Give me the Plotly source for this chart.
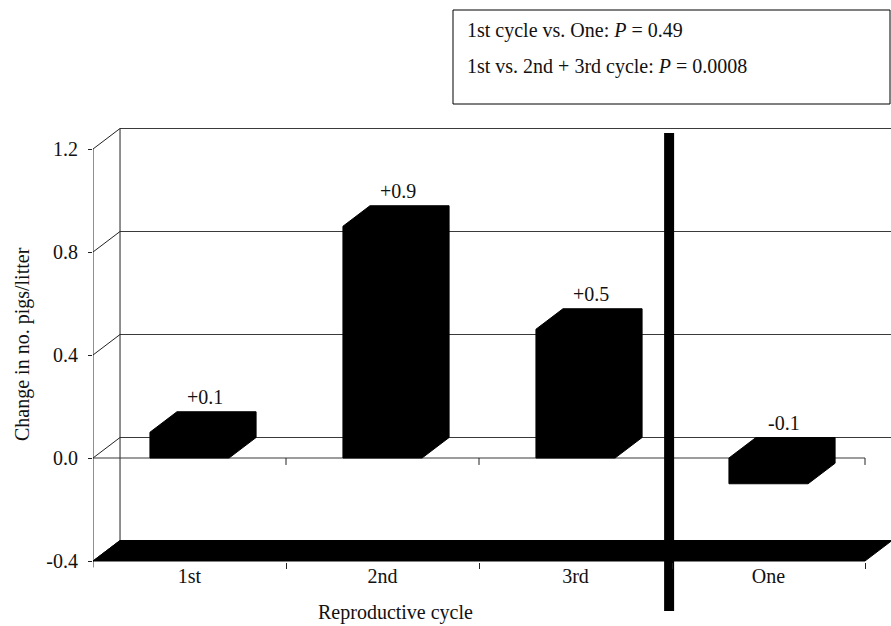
import plotly.graph_objects as go

# ---- data ----
categories = ["1st", "2nd", "3rd", "One"]
changes = [0.1, 0.9, 0.5, -0.1]
value_labels = ["+0.1", "+0.9", "+0.5", "-0.1"]
y_ticks = [-0.4, 0.0, 0.4, 0.8, 1.2]
y_tick_labels = ["-0.4", "0.0", "0.4", "0.8", "1.2"]
stats_lines = ["1st cycle vs. One: <i>P</i> = 0.49",
               "1st vs. 2nd + 3rd cycle: <i>P</i> = 0.0008"]
x_title = "Reproductive cycle"
y_title = "Change in no. pigs/litter"
separator_pos = 2.485  # thick divider between 3rd cycle and "One"

# ---- pseudo-3D geometry (in axis units) ----
DX = 0.14      # depth shift along x
DY = 0.0796    # depth shift along y
HALF = 0.205   # half width of bar front face
FONT = "Liberation Serif"
FS = 20
TXT = "#111111"
GRID = "#3a3a3a"

W, H = 891, 626
ML, MR, MT, MB = 93, 0, 125, 11
xr = [-0.5, -0.5 + (W - ML - MR) / 193.0]
yr = [(458 - (H - MB)) / 257.5, (458 - MT) / 257.5]

xmin, xmax = -0.5, len(categories) - 0.5
ylo, yhi = min(y_ticks), max(y_ticks)

fig = go.Figure()

def line(xs, ys, color=GRID, width=1.2):
    fig.add_trace(go.Scatter(x=xs, y=ys, mode="lines", hoverinfo="skip",
                             line=dict(color=color, width=width), showlegend=False))

# back wall gridlines
for v in y_ticks:
    if v > ylo:
        line([xmin + DX, xmax + DX], [v + DY, v + DY])
# back wall left edge
line([xmin + DX, xmin + DX], [ylo + DY, yhi + DY], color="#222222", width=1)
# side wall diagonals
for v in y_ticks:
    line([xmin, xmin + DX], [v, v + DY], color="#222222", width=1)
# front zero line with ticks at category boundaries
line([xmin, xmax], [0, 0])
for i in range(len(categories)):
    line([i + 0.5, i + 0.5], [0, -0.027], color="#222222", width=1)
# front y axis line
line([xmin, xmin], [yhi, ylo - 0.025], color="#222222", width=1)

# floor
fig.add_trace(go.Scatter(
    x=[xmin, xmin + DX, xmax + DX, xmax, xmin],
    y=[ylo, ylo + DY, ylo + DY, ylo, ylo],
    mode="lines", fill="toself", fillcolor="black",
    line=dict(color="black", width=1), hoverinfo="skip", showlegend=False))

# bars
for i, v in enumerate(changes):
    lo, hi = min(0, v), max(0, v)
    x0, x1 = i - HALF, i + HALF
    fig.add_trace(go.Scatter(
        x=[x0, x0, x0 + DX, x1 + DX, x1 + DX, x1, x0],
        y=[lo, hi, hi + DY, hi + DY, lo + DY, lo, lo],
        mode="lines", fill="toself", fillcolor="black",
        line=dict(color="black", width=1), hoverinfo="skip", showlegend=False))
    fig.add_annotation(x=i + 0.08, y=hi + DY + 0.058, xref="x", yref="y",
                       xanchor="center", yanchor="middle",
                       text=value_labels[i], showarrow=False,
                       font=dict(family=FONT, size=FS, color=TXT))

# thick separator
line([separator_pos, separator_pos], [-0.594, 1.262], color="black", width=10)

def px_to_paper_x(px):
    return (px - ML) / (W - ML - MR)

def px_to_paper_y(py):
    return (H - MB - py) / (H - MT - MB)

# stats box
fig.add_shape(type="rect", xref="paper", yref="paper",
              x0=px_to_paper_x(453), x1=px_to_paper_x(890),
              y0=px_to_paper_y(104), y1=px_to_paper_y(10),
              line=dict(color="black", width=1), fillcolor="white")
for k, (txt, py) in enumerate(zip(stats_lines, [31, 66])):
    fig.add_annotation(x=px_to_paper_x(465), y=px_to_paper_y(py), xref="paper", yref="paper",
                       xanchor="left", yanchor="middle", text=txt, showarrow=False,
                       font=dict(family=FONT, size=FS, color=TXT))

# axis titles
fig.add_annotation(x=px_to_paper_x(22), y=px_to_paper_y(344), xref="paper", yref="paper",
                   xanchor="center", yanchor="middle",
                   text=y_title, textangle=-90, showarrow=False,
                   font=dict(family=FONT, size=FS, color=TXT))
fig.add_annotation(x=px_to_paper_x(395), y=px_to_paper_y(612), xref="paper", yref="paper",
                   xanchor="center", yanchor="middle",
                   text=x_title, showarrow=False,
                   font=dict(family=FONT, size=FS, color=TXT))

fig.update_layout(
    width=W, height=H, autosize=False,
    margin=dict(l=ML, r=MR, t=MT, b=MB),
    paper_bgcolor="white", plot_bgcolor="white",
    showlegend=False,
    xaxis=dict(range=xr, anchor="free", position=px_to_paper_y(562),
               tickmode="array", tickvals=list(range(len(categories))), ticktext=categories,
               ticks="", showgrid=False, zeroline=False, showline=False,
               tickfont=dict(family=FONT, size=FS, color=TXT),
               minor=dict(tickmode="array", tickvals=[i + 0.5 for i in range(len(categories))],
                          ticks="outside", ticklen=6, tickcolor="#222222", showgrid=False),
               fixedrange=True),
    yaxis=dict(range=yr, tickmode="array", tickvals=y_ticks, ticktext=y_tick_labels,
               ticks="outside", ticklen=4, tickcolor="#222222",
               showgrid=False, zeroline=False, showline=False,
               tickfont=dict(family=FONT, size=FS, color=TXT),
               ticklabelstandoff=6, fixedrange=True),
)

fig.write_html("out.html", config={"displayModeBar": False},
               post_script="document.body.style.margin='0';document.body.style.padding='0';")
